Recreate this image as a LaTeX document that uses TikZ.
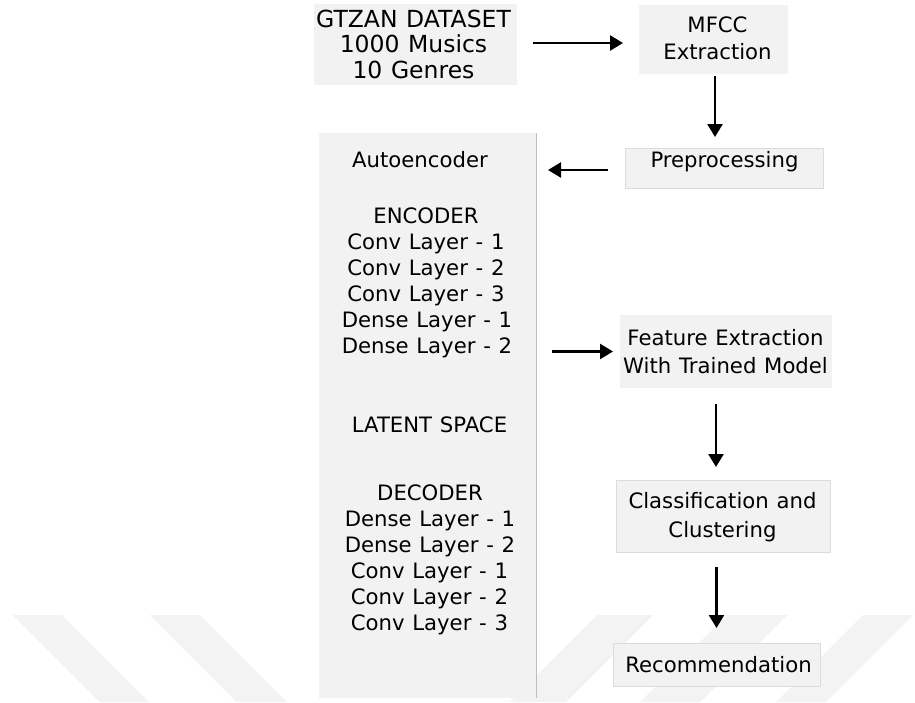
\documentclass[tikz,border=0pt]{standalone}
\usepackage{fontspec}
\setmainfont{DejaVu Sans}[WordSpace=1.15]
\usetikzlibrary{arrows.meta}
\definecolor{boxfill}{HTML}{F2F2F2}
\definecolor{boxline}{HTML}{DCDCDC}
\definecolor{edgeline}{HTML}{BDBDBD}
\definecolor{wmark}{HTML}{F3F3F3}
\definecolor{ink}{HTML}{000000}
\begin{document}
\begin{tikzpicture}[x=1pt,y=-1pt,
  box/.style={fill=boxfill, inner sep=0pt, outer sep=0pt},
  lbox/.style={box, draw=boxline, line width=0.8pt},
  txt/.style={anchor=base, inner sep=0pt, outer sep=0pt, text=ink, font=\fontsize{21.2}{26}\selectfont},
  bigtxt/.style={txt, font=\fontsize{23.5}{26}\selectfont},
  arr/.style={line width=2.6pt, draw=ink, -{Triangle[length=13pt,width=15pt]}},
  stripe/.style={fill=wmark, draw=none}
]
\fill[white] (0,0) rectangle (915,702);
\useasboundingbox (0,0) rectangle (915,702);

% watermark stripes
\fill[stripe] (13,615) -- (62,615) -- (149,702) -- (100,702) -- cycle;
\fill[stripe] (150,615) -- (200,615) -- (287,702) -- (237,702) -- cycle;
\fill[stripe] (597,615) -- (653,615) -- (566,702) -- (510,702) -- cycle;
\fill[stripe] (727,615) -- (787,615) -- (700,702) -- (640,702) -- cycle;
\fill[stripe] (863,615) -- (913,615) -- (826,702) -- (776,702) -- cycle;

% boxes
\node[box, minimum width=203pt, minimum height=81pt] (gtzan) at (415.5,44.5) {};
\node[box, minimum width=149pt, minimum height=69pt] (mfcc) at (713.5,39.5) {};
\node[lbox, minimum width=198pt, minimum height=40pt] (pre) at (724,168) {};
\node[box, minimum width=217pt, minimum height=565pt] (auto) at (427.5,415.5) {};
\node[box, minimum width=212pt, minimum height=73pt] (fe) at (726,351.5) {};
\node[lbox, minimum width=214pt, minimum height=72pt] (cls) at (723,516) {};
\node[lbox, minimum width=207pt, minimum height=43pt] (rec) at (716.5,664.5) {};
\draw[edgeline, line width=1pt] (auto.north east) -- (auto.south east);

% texts
\node[bigtxt] (g1) at (413.5,27) {GTZAN DATASET};
\node[bigtxt] (g2) at (413.5,52.5) {1000 Musics};
\node[bigtxt] (g3) at (413.5,78) {10 Genres};

\node[txt] (m1) at (717.5,32) {MFCC};
\node[txt] (m2) at (717.5,59) {Extraction};

\node[txt] (p1) at (724.5,167) {Preprocessing};

\node[txt] (a0) at (420,167) {Autoencoder};
\node[txt] (e0) at (426,223) {ENCODER};
\node[txt] (e1) at (426,249) {Conv Layer - 1};
\node[txt] (e2) at (426,275) {Conv Layer - 2};
\node[txt] (e3) at (426,301) {Conv Layer - 3};
\node[txt] (e4) at (427,327) {Dense Layer - 1};
\node[txt] (e5) at (427,353) {Dense Layer - 2};
\node[txt] (l0) at (429.5,432) {LATENT SPACE};
\node[txt] (d0) at (430,500) {DECODER};
\node[txt] (d1) at (430,526) {Dense Layer - 1};
\node[txt] (d2) at (430,552) {Dense Layer - 2};
\node[txt] (d3) at (429.5,578) {Conv Layer - 1};
\node[txt] (d4) at (429.5,604) {Conv Layer - 2};
\node[txt] (d5) at (429.5,630) {Conv Layer - 3};

\node[txt] (f1) at (725.5,345) {Feature Extraction};
\node[txt] (f2) at (725.5,373) {With Trained Model};

\node[txt] (c1) at (722.5,508) {Classification and};
\node[txt] (c2) at (722.5,537) {Clustering};

\node[txt] (r1) at (718.5,672) {Recommendation};

% connectors
\draw[arr, shorten <=16pt, shorten >=16pt] ([yshift=1.5pt]gtzan.east) -- ([yshift=1.5pt]gtzan.east -| mfcc.west);
\draw[arr, shorten <=2pt, shorten >=11pt] ([xshift=1.5pt]mfcc.south) -- ([xshift=1.5pt]mfcc.south |- pre.north);
\draw[arr, shorten <=17pt, shorten >=12pt] ([yshift=-2pt]pre.west) -- ([yshift=-2pt]pre.west -| auto.east);
\draw[arr, shorten <=16pt, shorten >=7pt] (fe.west -| auto.east) -- (fe.west);
\draw[arr, shorten <=16pt, shorten >=13pt] ([xshift=-10pt]fe.south) -- ([xshift=-10pt]fe.south |- cls.north);
\draw[arr, shorten <=15pt, shorten >=15pt] (cls.south -| rec.north) -- (rec.north);
\end{tikzpicture}
\end{document}
